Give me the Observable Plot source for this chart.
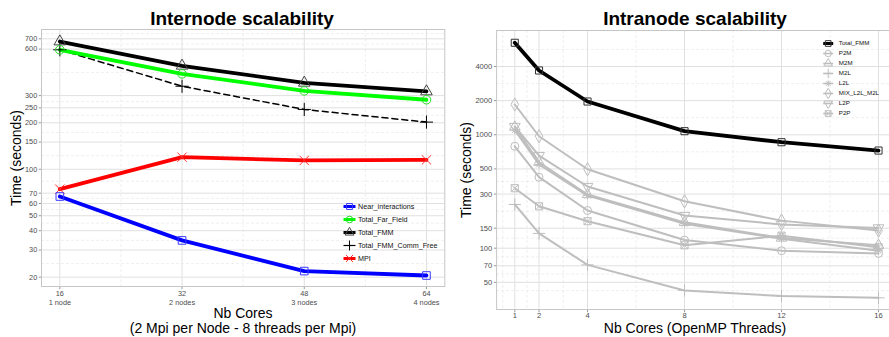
<!DOCTYPE html>
<html><head><meta charset="utf-8">
<script src="https://cdn.jsdelivr.net/npm/d3@7"></script>
<script src="https://cdn.jsdelivr.net/npm/@observablehq/plot@0.6"></script>
<style>
body{margin:0;background:#fff;}
#wrap{position:relative;width:889px;height:337px;overflow:hidden;font-family:"Liberation Sans",Arial,Helvetica,sans-serif;background:#fff;}
#wrap svg{max-width:none !important;display:block;}
.abs{position:absolute;white-space:nowrap;}
.title{font-weight:bold;font-size:19px;line-height:19px;color:#000;transform:translateX(-50%);}
.axt{font-size:14px;line-height:14px;color:#000;transform:translateX(-50%);}
.axty{font-size:14px;line-height:14px;color:#000;transform:translate(-50%,-50%) rotate(-90deg);}
</style></head><body><div id="wrap"></div>
<script>
// ---------- data: Internode scalability ----------
const leftCores = [16, 32, 48, 64];
const leftNodeLabels = ["1 node", "2 nodes", "3 nodes", "4 nodes"];
const leftSeriesNames = ["Near_interactions", "Total_Far_Field", "Total_FMM", "Total_FMM_Comm_Free", "MPI"];
const nearInteractions = [66.6, 34.6, 21.9, 20.5];
const totalFarField = [594, 415, 322, 282];
const totalFMMInter = [672, 468, 363, 319];
const totalFMMCommFree = [594, 345, 244, 202];
const mpi = [74.3, 119.7, 114, 115];
const leftYTicks = [20, 30, 40, 50, 60, 70, 100, 150, 200, 250, 300, 600, 700];

// ---------- data: Intranode scalability ----------
const threads = [1, 2, 4, 8, 12, 16];
const rightSeriesNames = ["Total_FMM", "P2M", "M2M", "M2L", "L2L", "MIX_L2L_M2L", "L2P", "P2P"];
const totalFMMIntra = [6475, 3690, 1965, 1076, 860, 726];
const p2m = [792, 423, 215, 118, 95, 90];
const m2m = [1170, 573, 297, 169, 123, 106];
const m2l = [243, 135, 71.3, 42.4, 37.8, 36.5];
const l2l = [1100, 547, 291, 164, 121, 95];
const mixL2LM2L = [1849, 971, 497, 259, 175, 143];
const l2p = [1183, 656, 350, 194, 162, 151];
const p2p = [338, 234, 173, 106, 129, 102];
const rightYTicks = [50, 70, 100, 150, 300, 500, 1000, 2000, 4000];

// ---------- helpers ----------
const FONT = '"Liberation Sans", Arial, Helvetica, sans-serif';
const leftValues = [nearInteractions, totalFarField, totalFMMInter, totalFMMCommFree, mpi];
const rightValues = [totalFMMIntra, p2m, m2m, m2l, l2l, mixL2LM2L, l2p, p2p];
const leftRows = leftSeriesNames.flatMap((s, k) => leftCores.map((c, i) => ({series: s, cores: c, time: leftValues[k][i]})));
const rightRows = rightSeriesNames.flatMap((s, k) => threads.map((c, i) => ({series: s, threads: c, time: rightValues[k][i]})));

function minorBreaks(b, log, domain) {
  const f = log ? Math.log10 : v => v, g = log ? v => 10 ** v : v => v;
  const t = b.map(f), n = t.length;
  const ext = [2 * t[0] - t[1], ...t, 2 * t[n - 1] - t[n - 2]];
  const m = [];
  for (let i = 0; i < ext.length - 1; i++) m.push(g((ext[i] + ext[i + 1]) / 2));
  return m.filter(v => v >= domain[0] && v <= domain[1]);
}

// custom symbols
const triangleDown = {draw(ctx, size) {
  const y = -Math.sqrt(size / (Math.sqrt(3) * 3));
  ctx.moveTo(0, -2 * y); ctx.lineTo(Math.sqrt(3) * y, y); ctx.lineTo(-Math.sqrt(3) * y, y); ctx.closePath();
}};
const squareX = {draw(ctx, size) {
  const w = Math.sqrt(size) / 2;
  ctx.moveTo(-w, -w); ctx.lineTo(w, -w); ctx.lineTo(w, w); ctx.lineTo(-w, w); ctx.closePath();
  ctx.moveTo(-w, -w); ctx.lineTo(w, w); ctx.moveTo(w, -w); ctx.lineTo(-w, w);
}};
const star8 = {draw(ctx, size) {
  const r = Math.sqrt(size) / 2 * 1.1, d = r * 0.72;
  ctx.moveTo(-r, 0); ctx.lineTo(r, 0); ctx.moveTo(0, -r); ctx.lineTo(0, r);
  ctx.moveTo(-d, -d); ctx.lineTo(d, d); ctx.moveTo(d, -d); ctx.lineTo(-d, d);
}};
const TICK = 2.7;
const tickLeft = {draw(ctx) { ctx.moveTo(-TICK, 0); ctx.lineTo(0, 0); }};
const tickDown = {draw(ctx) { ctx.moveTo(0, 0); ctx.lineTo(0, TICK); }};

const leftStyle = {
  Near_interactions: {line: "#0000ff", mark: "#3a3aff", symbol: "square", w: 3.8},
  Total_Far_Field: {line: "#00ff00", mark: "#22dd22", symbol: "circle", w: 3.8},
  Total_FMM: {line: "#000000", mark: "#444444", symbol: "triangle", w: 3.8},
  Total_FMM_Comm_Free: {line: "#000000", mark: "#000000", symbol: "plus", w: 1.5, dash: "6,4"},
  MPI: {line: "#ff0000", mark: "#ff3030", symbol: "times", w: 3.8}
};
const GREY = "#bebebe";
const rightStyle = {
  Total_FMM: {line: "#000000", mark: "#333333", symbol: "square", w: 3.8},
  P2M: {line: GREY, mark: GREY, symbol: "circle", w: 2},
  M2M: {line: GREY, mark: GREY, symbol: "triangle", w: 2},
  M2L: {line: GREY, mark: GREY, symbol: "plus", w: 2},
  L2L: {line: GREY, mark: GREY, symbol: star8, w: 2},
  MIX_L2L_M2L: {line: GREY, mark: GREY, symbol: "diamond", w: 2},
  L2P: {line: GREY, mark: GREY, symbol: triangleDown, w: 2},
  P2P: {line: GREY, mark: GREY, symbol: squareX, w: 2}
};

function panel({rows, names, styles, xField, xDomain, yDomain, xTicks, xTickFormat, yTicks, width, height, margins, fontSize, xTickLineHeight, xLabelDy, r}) {
  const xMinor = minorBreaks(xTicks, false, xDomain);
  const yMinor = minorBreaks(yTicks, true, yDomain);
  const marks = [
    Plot.ruleX(xMinor, {stroke: "#e4e4e4", strokeWidth: 0.6, strokeDasharray: "3,2"}),
    Plot.ruleY(yMinor, {stroke: "#e4e4e4", strokeWidth: 0.6, strokeDasharray: "3,2"}),
    Plot.ruleX(xTicks, {stroke: "#e0e0e0", strokeWidth: 1}),
    Plot.ruleY(yTicks, {stroke: "#e0e0e0", strokeWidth: 1}),
    // y axis: ticks + labels
    Plot.dot(yTicks, {y: d => d, frameAnchor: "left", symbol: tickLeft, stroke: "#999", fill: "none", strokeWidth: 1}),
    Plot.text(yTicks, {y: d => d, frameAnchor: "left", dx: -(TICK + 1.6), textAnchor: "end", text: d => String(d), fill: "#4d4d4d"}),
    // x axis: ticks + labels
    Plot.dot(xTicks, {x: d => d, frameAnchor: "bottom", symbol: tickDown, stroke: "#999", fill: "none", strokeWidth: 1}),
    Plot.text(xTicks, {x: d => d, frameAnchor: "bottom", dy: xLabelDy, lineAnchor: "top", text: xTickFormat, lineHeight: xTickLineHeight, fill: "#4d4d4d"})
  ];
  const order = [...names].reverse();
  for (const s of order) {
    const st = styles[s];
    const data = rows.filter(d => d.series === s);
    marks.push(Plot.line(data, {x: xField, y: "time", stroke: st.line, strokeWidth: st.w, strokeDasharray: st.dash, strokeLinejoin: "round"}));
  }
  for (const s of order) {
    const st = styles[s];
    const data = rows.filter(d => d.series === s);
    marks.push(Plot.dot(data, {x: xField, y: "time", symbol: st.symbol, stroke: st.mark, fill: "none", r, strokeWidth: 1}));
  }
  marks.push(Plot.frame({stroke: "#c6c6c6", strokeWidth: 1}));
  return Plot.plot({
    width, height, ...margins, axis: null,
    x: {type: "linear", domain: xDomain},
    y: {type: "log", domain: yDomain},
    style: {fontFamily: FONT, fontSize: fontSize + "px", background: "transparent", overflow: "visible", maxWidth: "none"},
    marks
  });
}

function legend(names, styles, {rowH, x1, x2, xt, fontSize, r, wScale}) {
  const h = rowH * names.length;
  const marks = [];
  for (const s of names) {
    const st = styles[s];
    marks.push(Plot.link([s], {x1: x1, x2: x2, y1: d => d, y2: d => d, stroke: st.line, strokeWidth: st.w * wScale}));
    marks.push(Plot.dot([s], {x: (x1 + x2) / 2, y: d => d, symbol: st.symbol, stroke: st.mark, fill: "none", r, strokeWidth: 1}));
  }
  marks.push(Plot.text(names, {x: xt, y: d => d, text: d => d, textAnchor: "start", fill: "#111"}));
  return Plot.plot({
    width: 120, height: h, margin: 0, axis: null,
    x: {type: "identity"},
    y: {type: "point", domain: names, range: [rowH / 2, h - rowH / 2], padding: 0},
    style: {fontFamily: FONT, fontSize: fontSize + "px", background: "transparent", overflow: "visible", maxWidth: "none"},
    marks
  });
}

const wrap = document.getElementById("wrap");
function place(el, left, top) {
  const d = document.createElement("div");
  d.className = "abs"; d.style.left = left + "px"; d.style.top = top + "px";
  d.appendChild(el); wrap.appendChild(d); return d;
}
function label(text, cls, left, top) {
  const d = document.createElement("div");
  d.className = "abs " + cls; d.style.left = left + "px"; d.style.top = top + "px";
  d.textContent = text; wrap.appendChild(d); return d;
}

// left panel
const leftPlot = panel({
  rows: leftRows, names: leftSeriesNames, styles: leftStyle, xField: "cores",
  xDomain: [13.6, 66.4], yDomain: [17.4, 804],
  xTicks: leftCores, xTickFormat: d => d + "\n" + leftNodeLabels[leftCores.indexOf(d)],
  yTicks: leftYTicks, width: 450, height: 337,
  margins: {marginLeft: 41, marginRight: 5.7, marginTop: 29, marginBottom: 51},
  fontSize: 7.3, xTickLineHeight: 1.19, xLabelDy: 3.3, r: 4.3
});
place(leftPlot, 0, 0);

// right panel
const rightPlot = panel({
  rows: rightRows, names: rightSeriesNames, styles: rightStyle, xField: "threads",
  xDomain: [0.25, 16.75], yDomain: [28.8, 8309],
  xTicks: threads, xTickFormat: d => String(d),
  yTicks: rightYTicks, width: 450, height: 337,
  margins: {marginLeft: 46.1, marginRight: 3.8, marginTop: 30, marginBottom: 28},
  fontSize: 7.6, xTickLineHeight: 1, xLabelDy: 3.3, r: 4
});
place(rightPlot, 450, 0);

// legends
place(legend(leftSeriesNames, leftStyle, {rowH: 13.5, x1: 5, x2: 17, xt: 19.5, fontSize: 7.2, r: 3.3, wScale: 0.8}), 338, 198.25);
place(legend(rightSeriesNames, rightStyle, {rowH: 10.86, x1: 4.7, x2: 14.7, xt: 20.3, fontSize: 6.2, r: 3.2, wScale: 0.8}), 818, 35.3);

// titles
label("Internode scalability", "title", 242, 8.9);
label("Intranode scalability", "title", 695, 8.9);
label("Nb Cores", "axt", 243, 306.2);
label("(2 Mpi per Node - 8 threads per Mpi)", "axt", 243, 321.2);
label("Nb Cores (OpenMP Threads)", "axt", 695, 320.6);
label("Time (seconds)", "axty", 15.5, 157.5);
label("Time (seconds)", "axty", 466.3, 169.5);
</script></body></html>
